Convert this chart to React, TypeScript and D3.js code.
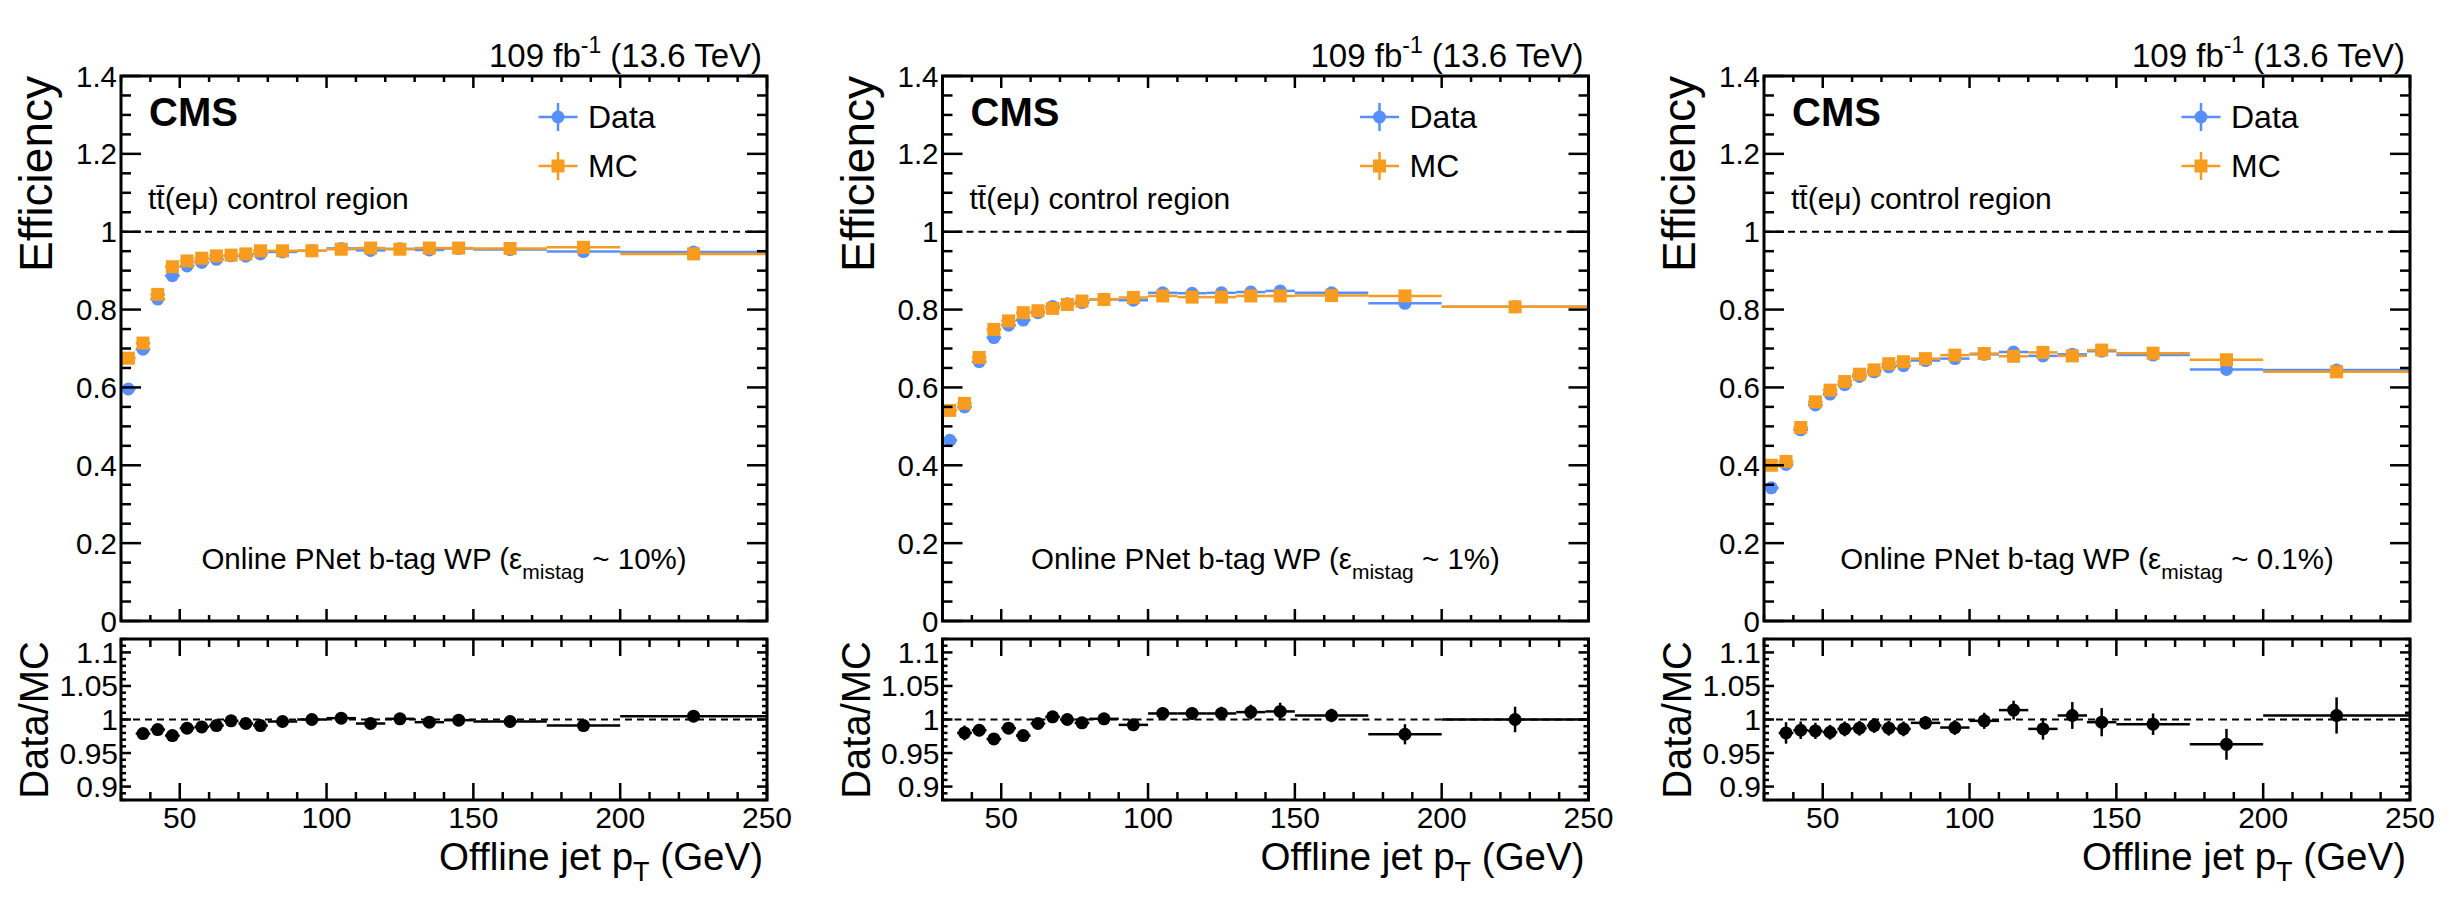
import React from "react";
import * as d3 from "d3";

const FONT = "'Liberation Sans', Arial, Helvetica, sans-serif";
const BLUE = "#5790fc";
const ORANGE = "#f89c20";

// layout (px)
const PANEL_X0 = 121;
const PANEL_STEP = 821.5;
const FRAME_W = 646;
const MAIN_TOP = 76;
const MAIN_BOTTOM = 621;
const RATIO_TOP = 639;
const RATIO_BOTTOM = 800;

// pT bins (GeV)
const binEdges = [30, 35, 40, 45, 50, 55, 60, 65, 70, 75, 80, 90, 100, 110, 120, 130, 140, 150, 175, 200, 250];

// tick labels
const xTickLabels = ["50", "100", "150", "200", "250"];
const yTickLabels = ["0", "0.2", "0.4", "0.6", "0.8", "1", "1.2", "1.4"];
const ratioTickLabels = ["0.9", "0.95", "1", "1.05", "1.1"];

// WP ~10% mistag
const dataEff10 = [0.596, 0.698, 0.827, 0.887, 0.912, 0.921, 0.929, 0.938, 0.937, 0.943, 0.948, 0.951, 0.957, 0.952, 0.956, 0.953, 0.957, 0.954, 0.949, 0.948];
const mcEff10 = [0.675, 0.714, 0.839, 0.91, 0.925, 0.932, 0.938, 0.94, 0.943, 0.951, 0.951, 0.951, 0.955, 0.958, 0.955, 0.958, 0.958, 0.957, 0.96, 0.943];
const ratio10 = [null, 0.979, 0.985, 0.976, 0.987, 0.989, 0.991, 0.998, 0.994, 0.991, 0.997, 1.0, 1.002, 0.994, 1.001, 0.996, 0.999, 0.997, 0.991, 1.005];
const ratioErr10 = [null, 0.004, 0.004, 0.003, 0.003, 0.003, 0.003, 0.003, 0.003, 0.003, 0.003, 0.003, 0.003, 0.004, 0.004, 0.004, 0.004, 0.004, 0.005, 0.005];

// WP ~1% mistag
const dataEff1 = [0.464, 0.55, 0.666, 0.728, 0.76, 0.773, 0.792, 0.808, 0.815, 0.818, 0.826, 0.824, 0.843, 0.842, 0.843, 0.845, 0.848, 0.843, 0.816, 0.807];
const mcEff1 = [0.541, 0.559, 0.677, 0.749, 0.771, 0.792, 0.797, 0.803, 0.813, 0.822, 0.826, 0.831, 0.835, 0.832, 0.832, 0.835, 0.835, 0.836, 0.835, 0.807];
const ratio1 = [null, 0.98, 0.984, 0.971, 0.987, 0.976, 0.994, 1.004, 1.0, 0.995, 1.001, 0.992, 1.009, 1.009, 1.009, 1.011, 1.012, 1.006, 0.978, 1.0];
const ratioErr1 = [null, 0.011, 0.009, 0.008, 0.008, 0.008, 0.007, 0.007, 0.007, 0.007, 0.007, 0.007, 0.009, 0.009, 0.01, 0.011, 0.013, 0.01, 0.015, 0.019];

// WP ~0.1% mistag
const dataEff01 = [0.342, 0.402, 0.491, 0.555, 0.583, 0.607, 0.628, 0.64, 0.653, 0.656, 0.669, 0.674, 0.685, 0.691, 0.681, 0.685, 0.693, 0.683, 0.646, 0.645];
const mcEff01 = [0.4, 0.41, 0.497, 0.563, 0.593, 0.615, 0.634, 0.645, 0.661, 0.666, 0.674, 0.683, 0.687, 0.68, 0.69, 0.681, 0.696, 0.688, 0.671, 0.64];
const ratio01 = [null, 0.98, 0.984, 0.983, 0.981, 0.986, 0.987, 0.991, 0.987, 0.986, 0.995, 0.988, 0.998, 1.014, 0.986, 1.006, 0.996, 0.993, 0.963, 1.006];
const ratioErr01 = [null, 0.016, 0.013, 0.012, 0.011, 0.011, 0.011, 0.011, 0.011, 0.011, 0.01, 0.011, 0.012, 0.014, 0.016, 0.02, 0.021, 0.016, 0.023, 0.027];

const mistagLabels = ["10%", "1%", "0.1%"];

type PanelProps = {
  left: number;
  data: number[];
  mc: number[];
  ratio: (number | null)[];
  ratioErr: (number | null)[];
  mistag: string;
};

const Panel = ({ left, data, mc, ratio, ratioErr, mistag }: PanelProps) => {
  const xScale = d3.scaleLinear().domain([30, 250]).range([0, FRAME_W]);
  const yScale = d3.scaleLinear().domain([0, 1.4]).range([MAIN_BOTTOM, MAIN_TOP]);
  const rScale = d3.scaleLinear().domain([0.88, 1.12]).range([RATIO_BOTTOM, RATIO_TOP]);

  const bins = binEdges.slice(0, -1).map((lo, i) => ({ lo, hi: binEdges[i + 1], c: (lo + binEdges[i + 1]) / 2 }));

  const xMajor = xTickLabels.map((d) => +d);
  const xMinor = d3.range(30, 251, 10).filter((v) => v % 50 !== 0);
  const yMajor = yTickLabels.map((d) => +d);
  const yMinor = d3.range(0, 28).map((i) => i * 0.05).filter((_, i) => i % 4 !== 0);
  const rMajor = ratioTickLabels.map((d) => +d);
  const rMinor = d3.range(0, 25).map((i) => 0.88 + i * 0.01).filter((v) => Math.abs(v / 0.05 - Math.round(v / 0.05)) > 0.01);

  const tick = { stroke: "black", strokeWidth: 2.5 };

  return (
    <g transform={`translate(${left},0)`}>
      {/* ---------- main pad ---------- */}
      <line x1={0} x2={FRAME_W} y1={yScale(1)} y2={yScale(1)} stroke="black" strokeWidth={2} strokeDasharray="7,5" />

      {bins.map((b, i) => (
        <line key={"dh" + i} x1={xScale(b.lo)} x2={xScale(b.hi)} y1={yScale(data[i])} y2={yScale(data[i])} stroke={BLUE} strokeWidth={2.5} />
      ))}
      {bins.map((b, i) => (
        <circle key={"dm" + i} cx={xScale(b.c)} cy={yScale(data[i])} r={6.5} fill={BLUE} />
      ))}
      {bins.map((b, i) => (
        <line key={"mh" + i} x1={xScale(b.lo)} x2={xScale(b.hi)} y1={yScale(mc[i])} y2={yScale(mc[i])} stroke={ORANGE} strokeWidth={2.5} />
      ))}
      {bins.map((b, i) => (
        <rect key={"mm" + i} x={xScale(b.c) - 6.5} y={yScale(mc[i]) - 6.5} width={13} height={13} fill={ORANGE} />
      ))}

      {/* axes ticks */}
      {xMajor.map((v) => (
        <g key={"xM" + v}>
          <line x1={xScale(v)} x2={xScale(v)} y1={MAIN_TOP} y2={MAIN_TOP + 12} {...tick} />
          <line x1={xScale(v)} x2={xScale(v)} y1={MAIN_BOTTOM} y2={MAIN_BOTTOM - 12} {...tick} />
        </g>
      ))}
      {xMinor.map((v) => (
        <g key={"xm" + v}>
          <line x1={xScale(v)} x2={xScale(v)} y1={MAIN_TOP} y2={MAIN_TOP + 6} {...tick} />
          <line x1={xScale(v)} x2={xScale(v)} y1={MAIN_BOTTOM} y2={MAIN_BOTTOM - 6} {...tick} />
        </g>
      ))}
      {yMajor.map((v) => (
        <g key={"yM" + v}>
          <line x1={0} x2={20} y1={yScale(v)} y2={yScale(v)} {...tick} />
          <line x1={FRAME_W} x2={FRAME_W - 20} y1={yScale(v)} y2={yScale(v)} {...tick} />
        </g>
      ))}
      {yMinor.map((v, i) => (
        <g key={"ym" + i}>
          <line x1={0} x2={10} y1={yScale(v)} y2={yScale(v)} {...tick} />
          <line x1={FRAME_W} x2={FRAME_W - 10} y1={yScale(v)} y2={yScale(v)} {...tick} />
        </g>
      ))}
      <rect x={0} y={MAIN_TOP} width={FRAME_W} height={MAIN_BOTTOM - MAIN_TOP} fill="none" stroke="black" strokeWidth={3} />

      {yTickLabels.map((t) => (
        <text key={"yl" + t} x={-4} y={yScale(+t)} textAnchor="end" dominantBaseline="central" fontSize={29.5} fontFamily={FONT}>
          {t}
        </text>
      ))}

      <text transform={`translate(-69,${MAIN_TOP}) rotate(-90)`} textAnchor="end" fontSize={46} fontFamily={FONT}>
        Efficiency
      </text>

      <text x={FRAME_W - 5} y={67} textAnchor="end" fontSize={33} fontFamily={FONT}>
        109 fb
        <tspan fontSize={23} dy={-14}>-1</tspan>
        <tspan dy={14}> (13.6 TeV)</tspan>
      </text>

      <text x={28} y={126} fontSize={40} fontWeight="bold" fontFamily={FONT}>
        CMS
      </text>

      <text x={27} y={209} fontSize={30} fontFamily={FONT}>
        t{"t\u0304"}(eμ) control region
      </text>

      <text x={FRAME_W / 2} y={569} textAnchor="middle" fontSize={29.5} fontFamily={FONT}>
        Online PNet b-tag WP (ε
        <tspan fontSize={21} dy={10}>mistag</tspan>
        <tspan dy={-10}> ~ {mistag})</tspan>
      </text>

      {/* legend */}
      <g transform="translate(437,117)">
        <line x1={-19.5} x2={19.5} y1={0} y2={0} stroke={BLUE} strokeWidth={2.5} />
        <line x1={0} x2={0} y1={-14} y2={14} stroke={BLUE} strokeWidth={2.5} />
        <circle r={6.5} fill={BLUE} />
        <text x={30} y={11} fontSize={32} fontFamily={FONT}>Data</text>
      </g>
      <g transform="translate(437,166)">
        <line x1={-19.5} x2={19.5} y1={0} y2={0} stroke={ORANGE} strokeWidth={2.5} />
        <line x1={0} x2={0} y1={-14} y2={14} stroke={ORANGE} strokeWidth={2.5} />
        <rect x={-6.5} y={-6.5} width={13} height={13} fill={ORANGE} />
        <text x={30} y={11} fontSize={32} fontFamily={FONT}>MC</text>
      </g>

      {/* ---------- ratio pad ---------- */}
      <line x1={0} x2={FRAME_W} y1={rScale(1)} y2={rScale(1)} stroke="black" strokeWidth={2} strokeDasharray="7,5" />
      {bins.map((b, i) => {
        const r = ratio[i];
        if (r === null || r < 0.88 || r > 1.12) return null;
        const e = ratioErr[i] ?? 0;
        return (
          <g key={"r" + i}>
            <line x1={xScale(b.lo)} x2={xScale(b.hi)} y1={rScale(r)} y2={rScale(r)} stroke="black" strokeWidth={2.5} />
            <line x1={xScale(b.c)} x2={xScale(b.c)} y1={rScale(r - e)} y2={rScale(r + e)} stroke="black" strokeWidth={2.5} />
            <circle cx={xScale(b.c)} cy={rScale(r)} r={6.5} fill="black" />
          </g>
        );
      })}

      {xMajor.map((v) => (
        <g key={"rxM" + v}>
          <line x1={xScale(v)} x2={xScale(v)} y1={RATIO_TOP} y2={RATIO_TOP + 17} {...tick} />
          <line x1={xScale(v)} x2={xScale(v)} y1={RATIO_BOTTOM} y2={RATIO_BOTTOM - 17} {...tick} />
        </g>
      ))}
      {xMinor.map((v) => (
        <g key={"rxm" + v}>
          <line x1={xScale(v)} x2={xScale(v)} y1={RATIO_TOP} y2={RATIO_TOP + 8} {...tick} />
          <line x1={xScale(v)} x2={xScale(v)} y1={RATIO_BOTTOM} y2={RATIO_BOTTOM - 8} {...tick} />
        </g>
      ))}
      {rMajor.map((v) => (
        <g key={"ryM" + v}>
          <line x1={0} x2={10} y1={rScale(v)} y2={rScale(v)} {...tick} />
          <line x1={FRAME_W} x2={FRAME_W - 10} y1={rScale(v)} y2={rScale(v)} {...tick} />
        </g>
      ))}
      {rMinor.map((v, i) => (
        <g key={"rym" + i}>
          <line x1={0} x2={5} y1={rScale(v)} y2={rScale(v)} {...tick} />
          <line x1={FRAME_W} x2={FRAME_W - 5} y1={rScale(v)} y2={rScale(v)} {...tick} />
        </g>
      ))}
      <rect x={0} y={RATIO_TOP} width={FRAME_W} height={RATIO_BOTTOM - RATIO_TOP} fill="none" stroke="black" strokeWidth={3} />

      {ratioTickLabels.map((t) => (
        <text key={"rl" + t} x={-3} y={rScale(+t)} textAnchor="end" dominantBaseline="central" fontSize={30} fontFamily={FONT}>
          {t}
        </text>
      ))}
      {xTickLabels.map((t) => (
        <text key={"xl" + t} x={xScale(+t)} y={828} textAnchor="middle" fontSize={30} fontFamily={FONT}>
          {t}
        </text>
      ))}

      <text transform={`translate(-73,${RATIO_TOP + 2}) rotate(-90)`} textAnchor="end" fontSize={40} fontFamily={FONT}>
        Data/MC
      </text>

      <text x={FRAME_W - 4} y={870} textAnchor="end" fontSize={38.5} fontFamily={FONT}>
        Offline jet p
        <tspan fontSize={27} dy={11}>T</tspan>
        <tspan dy={-11}> (GeV)</tspan>
      </text>
    </g>
  );
};

export default function App() {
  const panels = [
    { data: dataEff10, mc: mcEff10, ratio: ratio10, ratioErr: ratioErr10 },
    { data: dataEff1, mc: mcEff1, ratio: ratio1, ratioErr: ratioErr1 },
    { data: dataEff01, mc: mcEff01, ratio: ratio01, ratioErr: ratioErr01 },
  ];
  return (
    <svg width={2450} height={909} style={{ position: "absolute", left: 0, top: 0, background: "white" }}>
      <rect width={2450} height={909} fill="white" />
      {panels.map((p, i) => (
        <Panel key={i} left={PANEL_X0 + i * PANEL_STEP} mistag={mistagLabels[i]} {...p} />
      ))}
    </svg>
  );
}
